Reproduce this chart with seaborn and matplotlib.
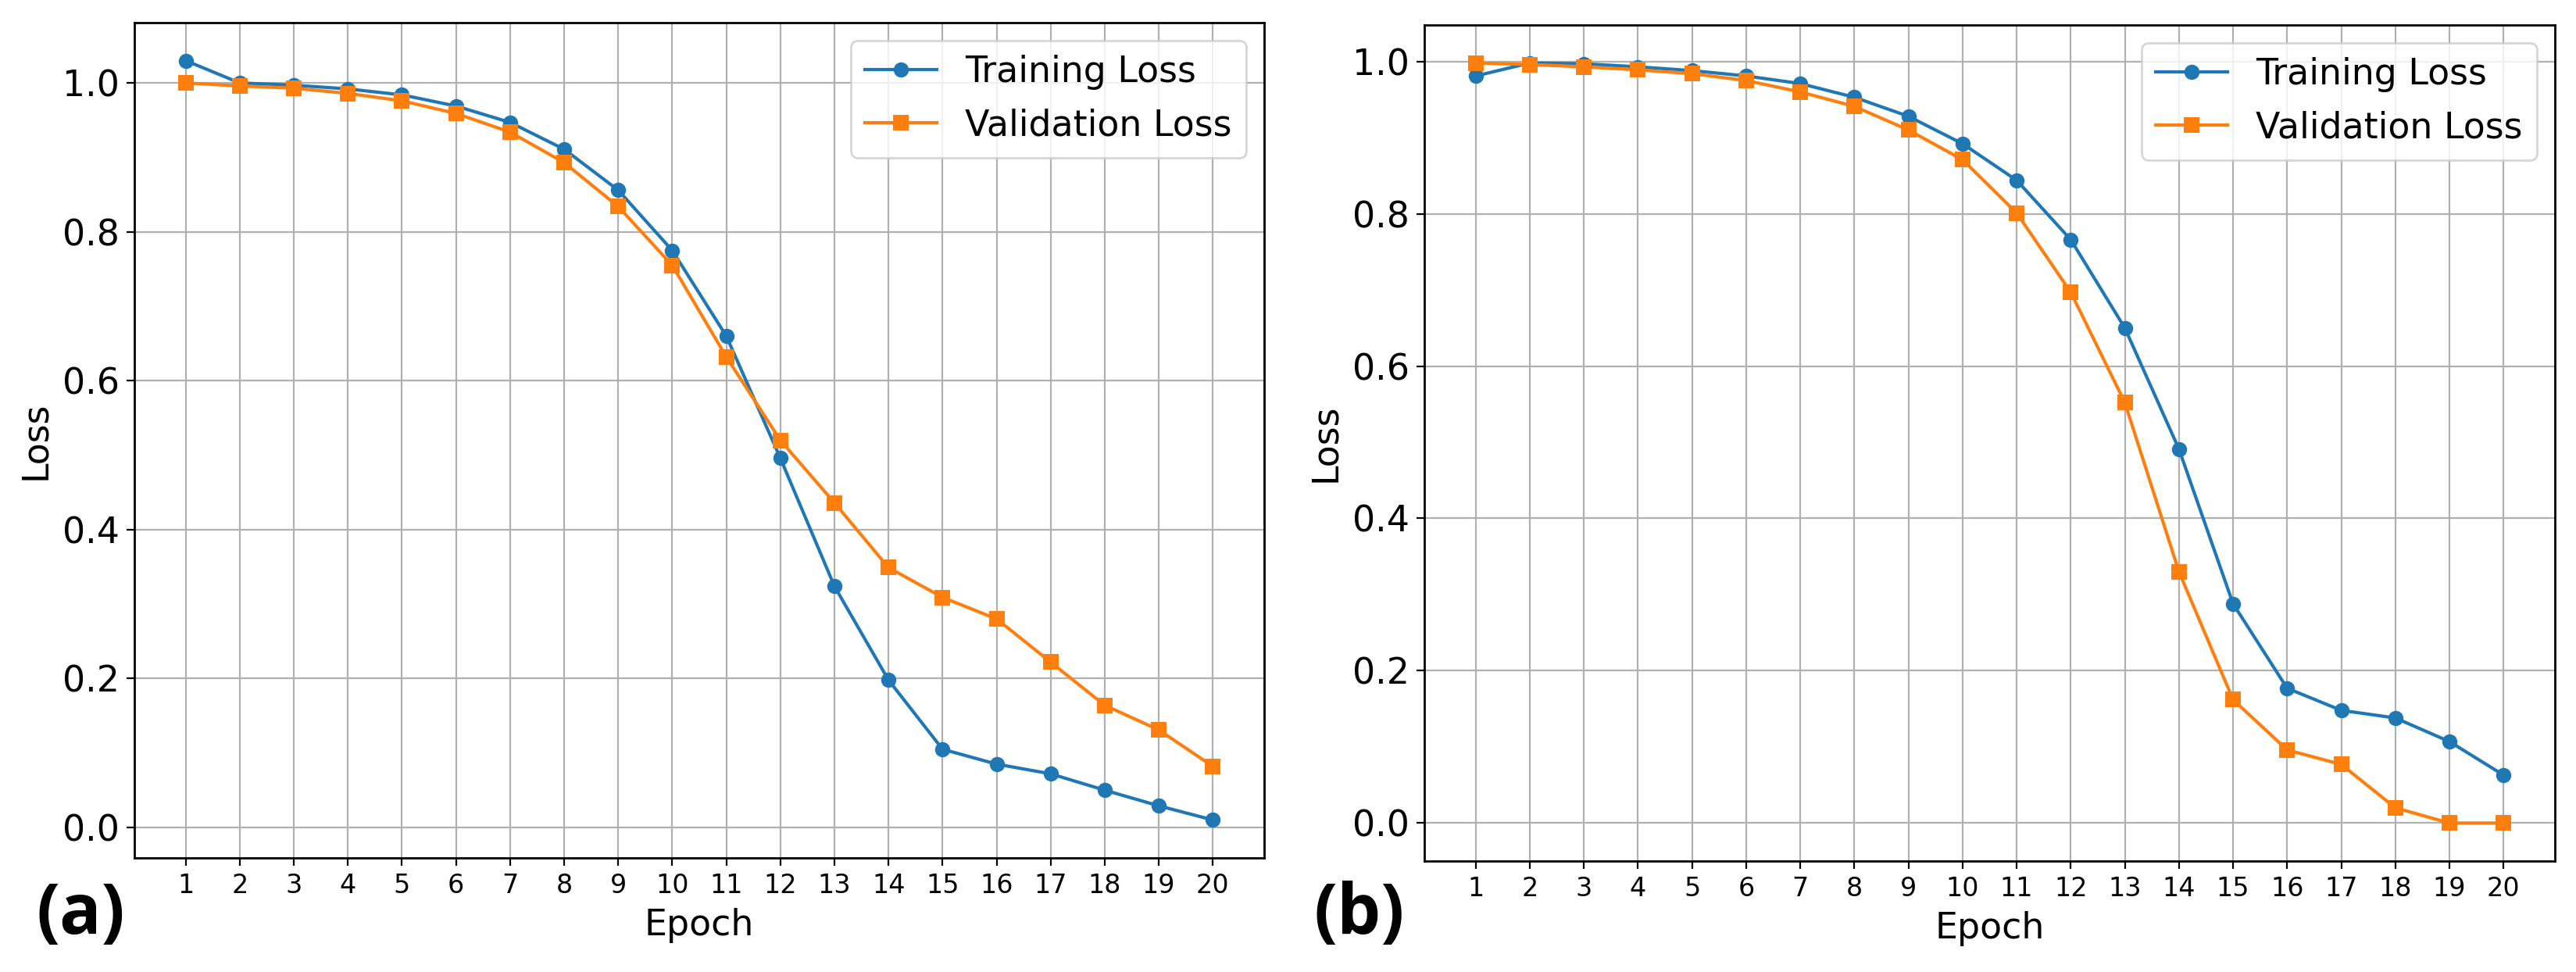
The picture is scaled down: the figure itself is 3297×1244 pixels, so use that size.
import numpy as np
import pandas as pd
import matplotlib
matplotlib.use('Agg')
import matplotlib.pyplot as plt
import seaborn as sns

# Données
epochs = list(range(1, 21))

train_loss_a = [1.030, 1.000, 0.997, 0.992, 0.984, 0.969, 0.947, 0.911, 0.856, 0.775,
                0.660, 0.496, 0.324, 0.198, 0.105, 0.085, 0.072, 0.050, 0.029, 0.010]
val_loss_a = [1.000, 0.996, 0.993, 0.986, 0.976, 0.959, 0.934, 0.893, 0.834, 0.755,
              0.632, 0.520, 0.436, 0.349, 0.309, 0.280, 0.222, 0.164, 0.131, 0.082]

train_loss_b = [0.981, 0.998, 0.997, 0.993, 0.988, 0.981, 0.971, 0.953, 0.928, 0.892,
                0.844, 0.766, 0.650, 0.491, 0.288, 0.177, 0.148, 0.138, 0.107, 0.063]
val_loss_b = [0.998, 0.996, 0.993, 0.989, 0.984, 0.975, 0.960, 0.941, 0.910, 0.871,
              0.801, 0.697, 0.552, 0.330, 0.162, 0.096, 0.077, 0.020, 0.000, 0.000]

panel_labels = ['(a)', '(b)']
series_labels = ['Training Loss', 'Validation Loss']
colors = ['#1f77b4', '#ff7f0e']
markers = ['o', 's']

W, H = 3298, 1244
DPI = 200


def plot_panel(ax, train, val):
    """Trace les courbes de perte d'un panneau"""
    for y, lab, col, mk in zip([train, val], series_labels, colors, markers):
        sns.lineplot(x=epochs, y=y, ax=ax, label=lab, color=col, marker=mk,
                     markersize=7, linewidth=1.5, markeredgecolor=col,
                     markeredgewidth=0)
    ax.set_xticks(epochs)
    ax.set_yticks([0.0, 0.2, 0.4, 0.6, 0.8, 1.0])
    ax.tick_params(axis='x', labelsize=12)
    ax.tick_params(axis='y', labelsize=16.5)
    ax.set_xlabel('Epoch', fontsize=16.5)
    ax.set_ylabel('Loss', fontsize=16.5)
    ax.grid(True, color='#b0b0b0', linewidth=0.8)
    ax.set_axisbelow(True)
    for sp in ax.spines.values():
        sp.set_linewidth(1.0)
    ax.legend(loc='upper right', fontsize=16.5)


fig = plt.figure(figsize=(W / DPI, H / DPI), dpi=DPI)
# positions en pixels (gauche, haut, droite, bas)
boxes = [(172, 29, 1618, 1098), (1823, 32, 3270, 1102)]
data = [(train_loss_a, val_loss_a), (train_loss_b, val_loss_b)]
label_x = [47, 1682]

for (l, t, r, b), (tr, va), lab, lx in zip(boxes, data, panel_labels, label_x):
    ax = fig.add_axes([l / W, 1 - b / H, (r - l) / W, (b - t) / H])
    plot_panel(ax, tr, va)
    fig.text(lx / W, 27 / H, lab, fontsize=32, fontweight='bold',
             family=['Open Sans', 'DejaVu Sans'], ha='left', va='bottom')

fig.savefig('out.png', dpi=DPI)
plt.close(fig)
